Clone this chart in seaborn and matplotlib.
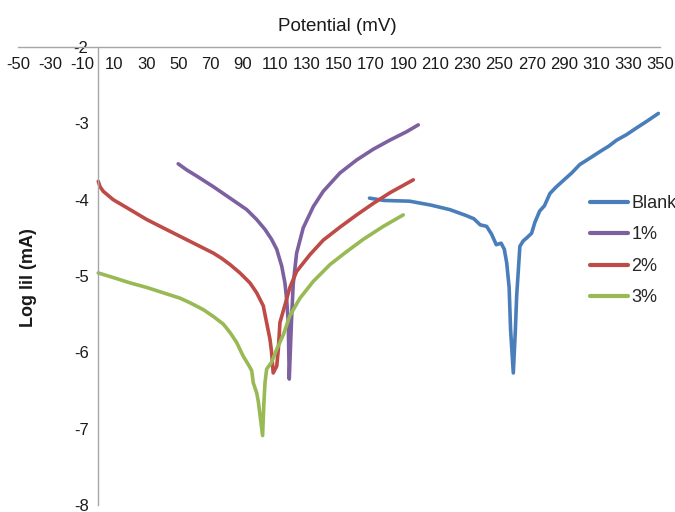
import numpy as np
import pandas as pd
import matplotlib
matplotlib.use('Agg')
import matplotlib.pyplot as plt
import seaborn as sns

# polarization curves, potential in mV vs log|i|
blank_mv = [169, 178, 194, 207, 219, 229.5, 234, 238, 242, 245, 248, 251, 253, 254.5,
            256, 256.9, 258.6, 259.9, 260.7, 262.7, 264.8, 267, 270, 272, 275, 278,
            281.4, 285, 289.7, 295, 300, 306, 312.6, 318, 323, 329, 335.4, 342, 349]
blank_log = [-3.98, -4.01, -4.02, -4.07, -4.13, -4.21, -4.25, -4.33, -4.35, -4.45, -4.59,
             -4.57, -4.65, -4.83, -5.15, -5.70, -6.27, -5.70, -5.26, -4.61, -4.54, -4.50,
             -4.44, -4.30, -4.15, -4.08, -3.92, -3.84, -3.75, -3.65, -3.54, -3.46, -3.37,
             -3.30, -3.22, -3.15, -3.06, -2.97, -2.87]

p1_mv = [49.8, 55.1, 61.3, 71.7, 82.1, 92.5, 98.7, 103.9, 108, 111.2, 114.3, 116.3,
         117.4, 118.4, 119, 120.5, 121.5, 123.6, 127.7, 134, 140.2, 150.6, 161, 171.3,
         181.7, 192.1, 199.4]
p1_log = [-3.53, -3.61, -3.69, -3.83, -3.98, -4.13, -4.26, -4.39, -4.52, -4.65, -4.87,
          -5.09, -5.31, -5.61, -6.35, -5.53, -5.10, -4.70, -4.37, -4.09, -3.89, -3.65,
          -3.48, -3.34, -3.22, -3.11, -3.02]

p2_mv = [0, 1.1, 3.1, 9.3, 19.8, 30.2, 40.5, 50.9, 61.3, 71.7, 77, 82.1, 88.3, 94.5,
         98.7, 102.8, 104.9, 107, 108, 109, 111.2, 112.2, 113.2, 117.4, 119.4, 123.6,
         131.9, 140.2, 150.6, 161, 171.3, 181.7, 196.3]
p2_log = [-3.76, -3.83, -3.89, -4.00, -4.13, -4.26, -4.37, -4.48, -4.59, -4.70, -4.77,
          -4.85, -4.96, -5.09, -5.22, -5.39, -5.61, -5.83, -6.00, -6.27, -6.18, -5.96,
          -5.61, -5.30, -5.15, -4.94, -4.72, -4.53, -4.36, -4.20, -4.05, -3.91, -3.74]

p3_mv = [0, 9.3, 19.8, 30.2, 40.5, 50.9, 57.1, 65.4, 71.7, 77.9, 82.1, 86.2, 90.3, 93.5,
         95.6, 96.6, 98.7, 99.7, 102.4, 103.2, 103.9, 104.9, 108, 111.2, 115.3, 119.4,
         125.7, 134, 144.4, 154.8, 165.1, 177.6, 190]
p3_log = [-4.96, -5.02, -5.09, -5.15, -5.22, -5.29, -5.35, -5.44, -5.53, -5.63, -5.74,
          -5.87, -6.05, -6.16, -6.24, -6.40, -6.53, -6.64, -7.09, -6.66, -6.40, -6.22,
          -6.13, -5.96, -5.77, -5.52, -5.29, -5.07, -4.85, -4.68, -4.52, -4.35, -4.20]

labels = ['Blank', '1%', '2%', '3%']
colors = ['#4A7EBB', '#7D60A0', '#BE4B48', '#98B954']
x_ticks = list(range(-50, 351, 20))
y_ticks = [-8, -7, -6, -5, -4, -3, -2]

frames = []
for lab, xs, ys in zip(labels, [blank_mv, p1_mv, p2_mv, p3_mv],
                       [blank_log, p1_log, p2_log, p3_log]):
    frames.append(pd.DataFrame({'mV': xs, 'log': ys, 'series': lab}))
df = pd.concat(frames, ignore_index=True)

sns.set_style('white')
plt.rcParams['font.family'] = ['Liberation Sans', 'DejaVu Sans']
plt.rcParams['axes.unicode_minus'] = False

fig = plt.figure(figsize=(6.75, 5.12), dpi=100)
ax = fig.add_axes([18 / 675, 1 - 505 / 512, 642 / 675, 458 / 512])

sns.lineplot(data=df, x='mV', y='log', hue='series', hue_order=labels,
             palette=colors, sort=False, estimator=None, linewidth=2.6, ax=ax)

ax.set_xlim(-50, 350)
ax.set_ylim(-8, -2)
ax.set_xticks(x_ticks)
ax.set_yticks(y_ticks)

# excel style axes: x axis crosses at the top, y axis at 0 mV
for s in ['top', 'right']:
    ax.spines[s].set_visible(False)
ax.spines['bottom'].set_position(('data', -2))
ax.spines['left'].set_position(('data', 0))
for s in ['bottom', 'left']:
    ax.spines[s].set_color('#A6A6A6')
    ax.spines[s].set_linewidth(1.0)
ax.tick_params(axis='both', direction='out', length=5, width=1, color='#A6A6A6',
               labelsize=12, labelcolor='#1a1a1a', pad=2)

ax.set_xlabel('Potential (mV)', fontsize=13.5, color='#1a1a1a')
ax.xaxis.set_label_position('top')
ax.xaxis.set_label_coords(0.497, 1.035)
ax.set_ylabel('Log lil (mA)', fontsize=13, fontweight='bold', color='#1a1a1a')
ax.yaxis.set_label_coords(0.03, 0.497)

sns.move_legend(ax, loc='upper left', bbox_to_anchor=(590 / 675, 1 - 195 / 512),
                bbox_transform=fig.transFigure, frameon=False, title=None,
                fontsize=13, handlelength=2.1, handletextpad=0.2,
                labelspacing=0.8, borderpad=0, borderaxespad=0)
for line in ax.get_legend().get_lines():
    line.set_linewidth(3)

fig.savefig('out.png', dpi=100)
